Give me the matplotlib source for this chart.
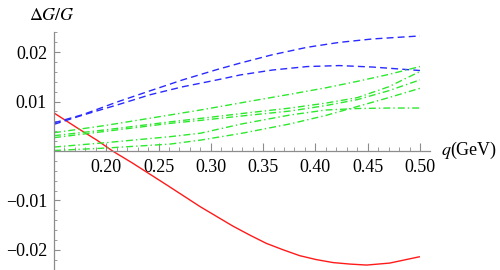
import matplotlib
matplotlib.use("Agg")
import matplotlib.pyplot as plt
from matplotlib.ticker import FixedLocator, MultipleLocator

plt.rcParams['font.family'] = ['Liberation Serif', 'DejaVu Serif']
plt.rcParams['mathtext.fontset'] = 'stix'

# ---- data ----
red_q = [0.15, 0.175, 0.191, 0.206, 0.2255, 0.258, 0.29, 0.321, 0.337, 0.353, 0.369,
         0.385, 0.401, 0.417, 0.433, 0.449, 0.471, 0.5]
red_v = [0.0077, 0.0043, 0.0022, 0.0, -0.0025, -0.0069, -0.0113, -0.0152, -0.0170, -0.0187,
         -0.0200, -0.0212, -0.0220, -0.0226, -0.0229, -0.0231, -0.0227, -0.0214]

blue1_q = [0.15, 0.178, 0.21, 0.242, 0.273, 0.306, 0.328, 0.359, 0.392, 0.423, 0.455, 0.5]
blue1_v = [0.0057, 0.0074, 0.0099, 0.0122, 0.0144, 0.0165, 0.0178, 0.0195, 0.0210, 0.0220, 0.0227, 0.0233]

blue2_q = [0.15, 0.178, 0.21, 0.242, 0.273, 0.306, 0.328, 0.359, 0.392, 0.423, 0.455, 0.5]
blue2_v = [0.0054, 0.0073, 0.0093, 0.0114, 0.0130, 0.0144, 0.0154, 0.0164, 0.0171, 0.0173, 0.0170, 0.0163]

green_q = [0.15, 0.2, 0.261, 0.29, 0.33, 0.376, 0.41, 0.44, 0.47, 0.5]
green1_v = [0.0037, 0.0052, 0.0073, 0.0083, 0.0098, 0.0115, 0.0128, 0.0141, 0.0155, 0.0171]
green2_v = [0.0031, 0.0043, 0.0059, 0.0066, 0.0076, 0.0087, 0.0097, 0.0108, 0.0130, 0.0161]
green3_v = [0.0027, 0.0040, 0.0056, 0.0062, 0.0071, 0.0081, 0.0092, 0.0104, 0.0122, 0.0144]
green4_v = [0.0001, 0.0006, 0.0014, 0.0022, 0.0036, 0.0055, 0.0072, 0.0090, 0.0108, 0.0127]
green5_v = [0.0008, 0.0017, 0.0029, 0.0036, 0.0055, 0.0073, 0.0083, 0.0086, 0.0087, 0.0087]

x_ticks = [0.20, 0.25, 0.30, 0.35, 0.40, 0.45, 0.50]
x_labels = ["0.20", "0.25", "0.30", "0.35", "0.40", "0.45", "0.50"]
y_ticks = [-0.02, -0.01, 0.01, 0.02]
y_labels = ["\u22120.02", "\u22120.01", "0.01", "0.02"]

# ---- figure ----
fig = plt.figure(figsize=(5.0, 2.7), dpi=100)
ax = fig.add_axes([54/500, 0.0, (430-54)/500, 238/270])
ax.set_xlim(0.15, 0.5096)
ax.set_ylim(-0.0241, 0.0241)

lw = 1.0
ax.plot(red_q, red_v, color='#ff1a1a', lw=lw, solid_capstyle='butt')
ax.plot(blue1_q, blue1_v, color='#2a2aff', lw=lw, dashes=(5, 3))
ax.plot(blue2_q, blue2_v, color='#2a2aff', lw=lw, dashes=(5, 3))
gdash = (5, 2.2, 1, 2.2)
for gv in [green1_v, green2_v, green3_v, green4_v, green5_v]:
    ax.plot(green_q, gv, color='#2ee82e', lw=lw, dashes=gdash)

for s in ['top', 'right']:
    ax.spines[s].set_visible(False)
ax.spines['left'].set_position(('data', 0.15))
ax.spines['bottom'].set_position(('data', 0.0))
for s in ['left', 'bottom']:
    ax.spines[s].set_color('#8c8c8c')
    ax.spines[s].set_linewidth(0.9)

ax.xaxis.set_major_locator(FixedLocator(x_ticks))
ax.set_xticklabels(x_labels)
ax.xaxis.set_minor_locator(MultipleLocator(0.01))
ax.yaxis.set_major_locator(FixedLocator(y_ticks))
ax.set_yticklabels(y_labels)
ax.yaxis.set_minor_locator(MultipleLocator(0.002))

ax.tick_params(axis='x', which='major', direction='in', length=5.5, width=0.8,
               color='#8c8c8c', labelsize=13, pad=6)
ax.tick_params(axis='x', which='minor', direction='in', length=3, width=0.6, color='#8c8c8c')
ax.tick_params(axis='y', which='major', direction='in', length=4, width=0.8,
               color='#8c8c8c', labelsize=13, pad=5)
ax.tick_params(axis='y', which='minor', direction='in', length=2.2, width=0.6, color='#8c8c8c')

fig.text(29/500, 1 - 20/270, r'$\Delta G/G$', fontsize=13, ha='left', va='baseline')
fig.text(441/500, 1 - 155/270, r'$q$(GeV)', fontsize=13, ha='left', va='baseline')

fig.savefig('out.png', dpi=100)
